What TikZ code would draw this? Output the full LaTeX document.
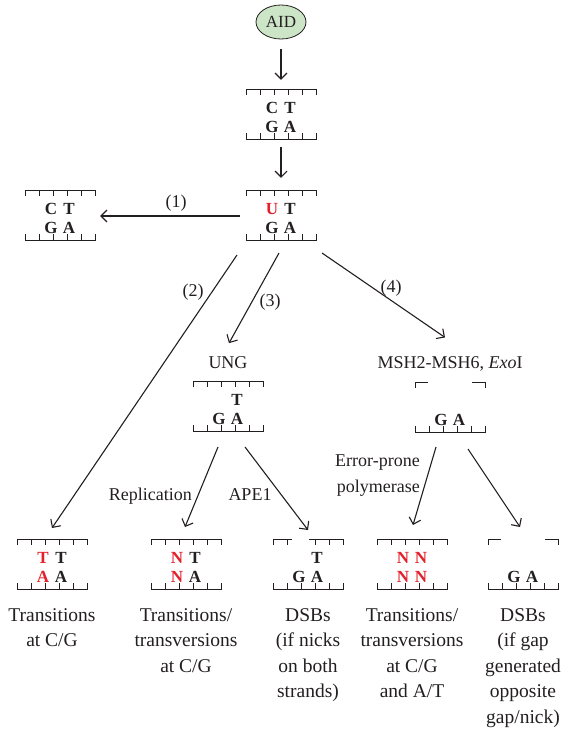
\documentclass[tikz,border=0pt]{standalone}
\usepackage{fontspec}
\setmainfont{Liberation Serif}
\usetikzlibrary{arrows.meta,calc,shapes.geometric}
\definecolor{ink}{HTML}{231F20}
\definecolor{mutred}{HTML}{E3202B}
\definecolor{aidgreen}{HTML}{CDE5C7}
\newcommand\mut[1]{\textcolor{mutred}{#1}}

\tikzset{
  strand/.style={draw=ink, line width=0.9pt},
  link/.style={draw=ink, line width=1.1pt,
    -{Straight Barb[length=6pt,width=12pt]}},
  lab/.style={text=ink, font=\fontsize{18}{26}\selectfont, inner sep=0pt},
  outcome/.style={text=ink, font=\fontsize{19.5}{25.5}\selectfont,
    align=center, inner sep=0pt, anchor=north},
  base/.style={text=ink, font=\fontsize{17}{17}\selectfont\bfseries,
    inner sep=0pt, anchor=base},
  % bottom strand of a duplex: full length, ticks pointing up
  pics/lowerstrand/.style={code={
    \draw[strand] (-35,19) -- (-35,25) -- (35,25) -- (35,19);
    \foreach \x in {-21,-7,7,21} \draw[strand] (\x,25) -- (\x,19);}},
  % intact top strand
  pics/upperstrand/.style={code={
    \draw[strand] (-35,-19) -- (-35,-25) -- (35,-25) -- (35,-19);
    \foreach \x in {-21,-7,7,21} \draw[strand] (\x,-25) -- (\x,-19);}},
  % top strand with a single-nucleotide nick
  pics/nickedstrand/.style={code={
    \draw[strand] (-35,-19) -- (-35,-25) -- (-16,-25);
    \draw[strand] (-21,-25) -- (-21,-19);
    \draw[strand] (1,-25) -- (35,-25) -- (35,-19);
    \draw[strand] (7,-25) -- (7,-19);
    \draw[strand] (21,-25) -- (21,-19);}},
  % top strand excised, only the ends remain
  pics/gappedstrand/.style={code={
    \draw[strand] (-35,-19) -- (-35,-25) -- (-22,-25);
    \draw[strand] (22,-25) -- (35,-25) -- (35,-19);}},
  % a short DNA duplex with two base pairs
  pics/duplex/.style n args={5}{code={
    \node[minimum width=70pt, minimum height=50pt, inner sep=0pt] (-f) at (0,0) {};
    \pic {#1strand};
    \pic {lowerstrand};
    \node[base] (-a) at (-9,-1) {#2};
    \node[base] (-b) at (9,-1) {#3};
    \node[base] (-c) at (-9,18) {#4};
    \node[base] (-d) at (9,18) {#5};
  }},
}

\begin{document}
\begin{tikzpicture}[x=1pt, y=-1pt]
\useasboundingbox (0,0) rectangle (561,731);

% deaminase
\node[ellipse, draw=ink, line width=0.8pt, fill=aidgreen, minimum width=50pt,
  minimum height=34pt, inner sep=0pt, text=ink, font=\fontsize{17}{17}\selectfont]
  (aid) at (281,22) {AID};

% duplexes
\pic (d1) at (281,114) {duplex={upper}{C}{T}{G}{A}};
\pic (ut) at (281,215) {duplex={upper}{\mut{U}}{T}{G}{A}};
\pic (lf) at (60,215)  {duplex={upper}{C}{T}{G}{A}};
\pic (ub) at (228,406) {duplex={upper}{}{T}{G}{A}};
\pic (mb) at (450,407) {duplex={gapped}{}{}{G}{A}};
\pic (tt) at (52,564)  {duplex={upper}{\mut{T}}{T}{\mut{A}}{A}};
\pic (nt) at (186,564) {duplex={upper}{\mut{N}}{T}{\mut{N}}{A}};
\pic (s1) at (308,564) {duplex={nicked}{}{T}{G}{A}};
\pic (nn) at (412,564) {duplex={upper}{\mut{N}}{\mut{N}}{\mut{N}}{\mut{N}}};
\pic (s2) at (523,564) {duplex={gapped}{}{}{G}{A}};

% enzyme labels
\node[lab, anchor=base] (ung) at (228,368) {UNG};
\node[lab, anchor=base] (msh) at (450,368) {MSH2-MSH6, \textit{Exo}I};

% pathway numbers
\node[lab] (p1) at (176,203) {(1)};
\node[lab] (p2) at (193,292) {(2)};
\node[lab] (p3) at (270,302) {(3)};
\node[lab] (p4) at (391,288) {(4)};

% branch labels
\node[lab, anchor=base east] (rep) at (192,500) {Replication};
\node[lab, anchor=base] (ape) at (250,500) {APE1};
\node[lab, anchor=base east, align=right] (epp) at (420,492) {Error-prone\\polymerase};

% outcomes
\node[outcome] (o1) at (52,608)  {Transitions\\at C/G};
\node[outcome] (o2) at (186,608) {Transitions/\\transversions\\at C/G};
\node[outcome] (o3) at (308,608) {DSBs\\(if nicks\\on both\\strands)};
\node[outcome] (o4) at (412,608) {Transitions/\\transversions\\at C/G\\and A/T};
\node[outcome] (o5) at (523,608) {DSBs\\(if gap\\generated\\opposite\\gap/nick)};

% connectors
\draw[link] ($(aid.south)+(0,10)$) -- ($(d1-f.north)+(0,-9)$);
\draw[link] ($(d1-f.south)+(0,8)$) -- ($(ut-f.north)+(0,-12)$);
\draw[link] ($(ut-f.west)+(-6,1)$) -- ($(lf-f.east)+(5,1)$);
\draw[link] ($(ut-f.center)+(-44,40)$) -- ($(tt-f.center)+(0,-36)$);
\draw[link] ($(ut-f.center)+(-2,38)$) -- ($(ung.center)+(1,-19)$);
\draw[link] ($(ut-f.center)+(41,38)$) -- ($(msh.center)+(-5,-26)$);
\draw[link] ($(ub-f.center)+(-10,41)$) -- ($(nt-f.center)+(-1,-37)$);
\draw[link] ($(ub-f.center)+(17,41)$) -- ($(s1-f.center)+(0,-34)$);
\draw[link] ($(mb-f.center)+(-14,40)$) -- ($(nn-f.center)+(1,-39)$);
\draw[link] ($(mb-f.center)+(18,42)$) -- ($(s2-f.center)+(-3,-37)$);
\end{tikzpicture}
\end{document}
